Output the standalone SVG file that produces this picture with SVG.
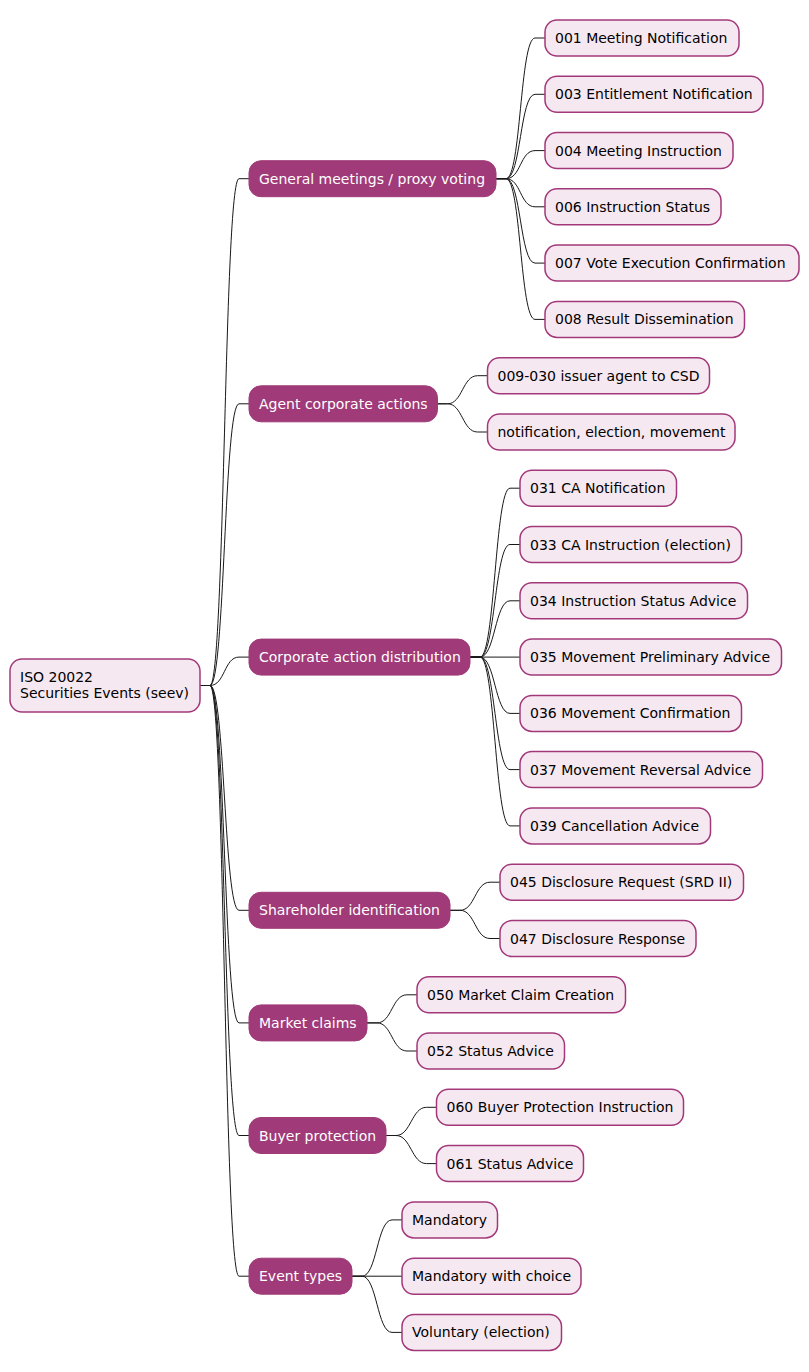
<svg xmlns="http://www.w3.org/2000/svg" width="809" height="1372" viewBox="0 0 809 1372">
  <style>
    text { font-family: "DejaVu Sans", "Liberation Sans", sans-serif; font-size: 14px; }
    .root rect, .leaf rect { fill: #F6E8F1; stroke: #A2387A; stroke-width: 1.5; }
    .cat rect { fill: #A03A78; stroke: #A03A78; stroke-width: 1; }
    .root text, .leaf text { fill: #000000; }
    .cat text { fill: #FFFFFF; }
    #connectors path { fill: none; stroke: #181818; stroke-width: 1; }
  </style>
  <rect width="809" height="1372" fill="#FFFFFF"/>

  <!-- connectors: short stub, cubic S-curve, short stub -->
  <g id="connectors">
    <!-- root to categories -->
    <path d="M200,685.5 L210,685.5 C225,685.5 224,178.7 239,178.7 L249,178.7"/>
    <path d="M200,685.5 L210,685.5 C225,685.5 224,403.8 239,403.8 L249,403.8"/>
    <path d="M200,685.5 L210,685.5 C225,685.5 224,657.1 239,657.1 L249,657.1"/>
    <path d="M200,685.5 L210,685.5 C225,685.5 224,910.3 239,910.3 L249,910.3"/>
    <path d="M200,685.5 L210,685.5 C225,685.5 224,1022.9 239,1022.9 L249,1022.9"/>
    <path d="M200,685.5 L210,685.5 C225,685.5 224,1135.5 239,1135.5 L249,1135.5"/>
    <path d="M200,685.5 L210,685.5 C225,685.5 224,1276.2 239,1276.2 L249,1276.2"/>
    <!-- general meetings -->
    <path d="M496,178.7 L506,178.7 C521,178.7 520,38 535,38 L545,38"/>
    <path d="M496,178.7 L506,178.7 C521,178.7 520,94.3 535,94.3 L545,94.3"/>
    <path d="M496,178.7 L506,178.7 C521,178.7 520,150.6 535,150.6 L545,150.6"/>
    <path d="M496,178.7 L506,178.7 C521,178.7 520,206.8 535,206.8 L545,206.8"/>
    <path d="M496,178.7 L506,178.7 C521,178.7 520,263.1 535,263.1 L545,263.1"/>
    <path d="M496,178.7 L506,178.7 C521,178.7 520,319.4 535,319.4 L545,319.4"/>
    <!-- agent corporate actions -->
    <path d="M437.5,403.8 L447.5,403.8 C462.5,403.8 462.5,375.7 477.5,375.7 L487.5,375.7"/>
    <path d="M437.5,403.8 L447.5,403.8 C462.5,403.8 462.5,432 477.5,432 L487.5,432"/>
    <!-- corporate action distribution -->
    <path d="M470,657.1 L480,657.1 C495,657.1 495,488.2 510,488.2 L520,488.2"/>
    <path d="M470,657.1 L480,657.1 C495,657.1 495,544.5 510,544.5 L520,544.5"/>
    <path d="M470,657.1 L480,657.1 C495,657.1 495,600.8 510,600.8 L520,600.8"/>
    <path d="M470,657.1 L520,657.1"/>
    <path d="M470,657.1 L480,657.1 C495,657.1 495,713.4 510,713.4 L520,713.4"/>
    <path d="M470,657.1 L480,657.1 C495,657.1 495,769.6 510,769.6 L520,769.6"/>
    <path d="M470,657.1 L480,657.1 C495,657.1 495,825.9 510,825.9 L520,825.9"/>
    <!-- shareholder identification -->
    <path d="M450,910.3 L460,910.3 C475,910.3 475,882.2 490,882.2 L500,882.2"/>
    <path d="M450,910.3 L460,910.3 C475,910.3 475,938.5 490,938.5 L500,938.5"/>
    <!-- market claims -->
    <path d="M367,1022.9 L377,1022.9 C392,1022.9 392,994.8 407,994.8 L417,994.8"/>
    <path d="M367,1022.9 L377,1022.9 C392,1022.9 392,1051 407,1051 L417,1051"/>
    <!-- buyer protection -->
    <path d="M386,1135.5 L396,1135.5 C411,1135.5 411.5,1107.3 426.5,1107.3 L436.5,1107.3"/>
    <path d="M386,1135.5 L396,1135.5 C411,1135.5 411.5,1163.6 426.5,1163.6 L436.5,1163.6"/>
    <!-- event types -->
    <path d="M352,1276.2 L362,1276.2 C377,1276.2 377,1219.9 392,1219.9 L402,1219.9"/>
    <path d="M352,1276.2 L402,1276.2"/>
    <path d="M352,1276.2 L362,1276.2 C377,1276.2 377,1332.4 392,1332.4 L402,1332.4"/>
  </g>

  <!-- root -->
  <g id="root" class="root">
    <rect x="10" y="659" width="190" height="53" rx="12"/>
    <text x="20" y="681.5">ISO 20022</text>
    <text x="20" y="698">Securities Events (seev)</text>
  </g>

  <!-- categories -->
  <g id="cat-general-meetings" class="cat">
    <rect x="249" y="160.7" width="247" height="36" rx="12"/>
    <text x="259" y="183.7">General meetings / proxy voting</text>
  </g>
  <g id="cat-agent-ca" class="cat">
    <rect x="249" y="385.8" width="188.5" height="36" rx="12"/>
    <text x="259" y="408.8">Agent corporate actions</text>
  </g>
  <g id="cat-ca-distribution" class="cat">
    <rect x="249" y="639.1" width="221" height="36" rx="12"/>
    <text x="259" y="662.1">Corporate action distribution</text>
  </g>
  <g id="cat-shareholder-id" class="cat">
    <rect x="249" y="892.3" width="201" height="36" rx="12"/>
    <text x="259" y="915.3">Shareholder identification</text>
  </g>
  <g id="cat-market-claims" class="cat">
    <rect x="249" y="1004.9" width="118" height="36" rx="12"/>
    <text x="259" y="1027.9">Market claims</text>
  </g>
  <g id="cat-buyer-protection" class="cat">
    <rect x="249" y="1117.5" width="137" height="36" rx="12"/>
    <text x="259" y="1140.5">Buyer protection</text>
  </g>
  <g id="cat-event-types" class="cat">
    <rect x="249" y="1258.2" width="103" height="36" rx="12"/>
    <text x="259" y="1281.2">Event types</text>
  </g>

  <!-- general meetings messages -->
  <g id="seev-001" class="leaf">
    <rect x="545" y="20" width="194" height="36" rx="12"/>
    <text x="555" y="43">001 Meeting Notification</text>
  </g>
  <g id="seev-003" class="leaf">
    <rect x="545" y="76.3" width="218" height="36" rx="12"/>
    <text x="555" y="99.3">003 Entitlement Notification</text>
  </g>
  <g id="seev-004" class="leaf">
    <rect x="545" y="132.6" width="188" height="36" rx="12"/>
    <text x="555" y="155.6">004 Meeting Instruction</text>
  </g>
  <g id="seev-006" class="leaf">
    <rect x="545" y="188.8" width="176" height="36" rx="12"/>
    <text x="555" y="211.8">006 Instruction Status</text>
  </g>
  <g id="seev-007" class="leaf">
    <rect x="545" y="245.1" width="254" height="36" rx="12"/>
    <text x="555" y="268.1">007 Vote Execution Confirmation</text>
  </g>
  <g id="seev-008" class="leaf">
    <rect x="545" y="301.4" width="199.5" height="36" rx="12"/>
    <text x="555" y="324.4">008 Result Dissemination</text>
  </g>

  <!-- agent corporate actions -->
  <g id="seev-009-030" class="leaf">
    <rect x="487.5" y="357.7" width="222" height="36" rx="12"/>
    <text x="497.5" y="380.7">009-030 issuer agent to CSD</text>
  </g>
  <g id="agent-flows" class="leaf">
    <rect x="487.5" y="414" width="247.5" height="36" rx="12"/>
    <text x="497.5" y="437">notification, election, movement</text>
  </g>

  <!-- corporate action distribution -->
  <g id="seev-031" class="leaf">
    <rect x="520" y="470.2" width="156.5" height="36" rx="12"/>
    <text x="530" y="493.2">031 CA Notification</text>
  </g>
  <g id="seev-033" class="leaf">
    <rect x="520" y="526.5" width="221.5" height="36" rx="12"/>
    <text x="530" y="549.5">033 CA Instruction (election)</text>
  </g>
  <g id="seev-034" class="leaf">
    <rect x="520" y="582.8" width="227.5" height="36" rx="12"/>
    <text x="530" y="605.8">034 Instruction Status Advice</text>
  </g>
  <g id="seev-035" class="leaf">
    <rect x="520" y="639.1" width="261.5" height="36" rx="12"/>
    <text x="530" y="662.1">035 Movement Preliminary Advice</text>
  </g>
  <g id="seev-036" class="leaf">
    <rect x="520" y="695.4" width="221.5" height="36" rx="12"/>
    <text x="530" y="718.4">036 Movement Confirmation</text>
  </g>
  <g id="seev-037" class="leaf">
    <rect x="520" y="751.6" width="242.5" height="36" rx="12"/>
    <text x="530" y="774.6">037 Movement Reversal Advice</text>
  </g>
  <g id="seev-039" class="leaf">
    <rect x="520" y="807.9" width="190.5" height="36" rx="12"/>
    <text x="530" y="830.9">039 Cancellation Advice</text>
  </g>

  <!-- shareholder identification -->
  <g id="seev-045" class="leaf">
    <rect x="500" y="864.2" width="243.5" height="36" rx="12"/>
    <text x="510" y="887.2">045 Disclosure Request (SRD II)</text>
  </g>
  <g id="seev-047" class="leaf">
    <rect x="500" y="920.5" width="196" height="36" rx="12"/>
    <text x="510" y="943.5">047 Disclosure Response</text>
  </g>

  <!-- market claims -->
  <g id="seev-050" class="leaf">
    <rect x="417" y="976.8" width="208.5" height="36" rx="12"/>
    <text x="427" y="999.8">050 Market Claim Creation</text>
  </g>
  <g id="seev-052" class="leaf">
    <rect x="417" y="1033" width="147.5" height="36" rx="12"/>
    <text x="427" y="1056">052 Status Advice</text>
  </g>

  <!-- buyer protection -->
  <g id="seev-060" class="leaf">
    <rect x="436.5" y="1089.3" width="247" height="36" rx="12"/>
    <text x="446.5" y="1112.3">060 Buyer Protection Instruction</text>
  </g>
  <g id="seev-061" class="leaf">
    <rect x="436.5" y="1145.6" width="147" height="36" rx="12"/>
    <text x="446.5" y="1168.6">061 Status Advice</text>
  </g>

  <!-- event types -->
  <g id="evt-mandatory" class="leaf">
    <rect x="402" y="1201.9" width="95.5" height="36" rx="12"/>
    <text x="412" y="1224.9">Mandatory</text>
  </g>
  <g id="evt-mandatory-choice" class="leaf">
    <rect x="402" y="1258.2" width="179" height="36" rx="12"/>
    <text x="412" y="1281.2">Mandatory with choice</text>
  </g>
  <g id="evt-voluntary" class="leaf">
    <rect x="402" y="1314.4" width="159.5" height="36" rx="12"/>
    <text x="412" y="1337.4">Voluntary (election)</text>
  </g>
</svg>
